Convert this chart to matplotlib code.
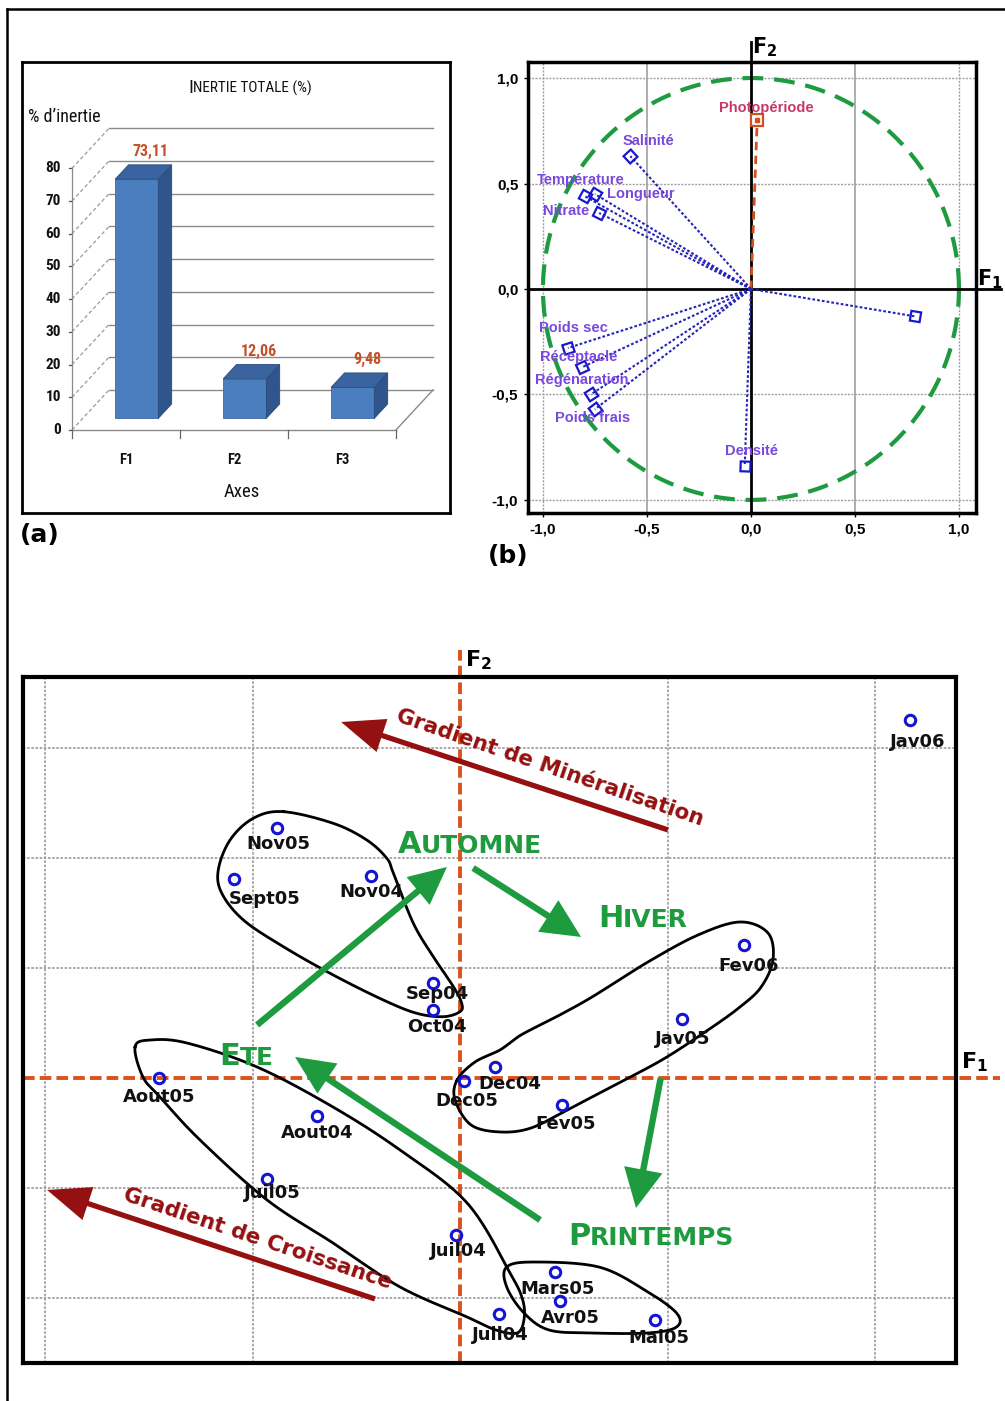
import numpy as np
import matplotlib
matplotlib.use("Agg")
import matplotlib.pyplot as plt
from matplotlib import font_manager
from matplotlib.patches import Polygon
from matplotlib.lines import Line2D

# ---------------- data ----------------
# (a) total inertia per factorial axis
axis_names = ["F1", "F2", "F3"]
inertia = [73.11, 12.06, 9.48]
inertia_ticks = [0, 10, 20, 30, 40, 50, 60, 70, 80]

# (b) correlation circle: variables (F1, F2)
var_names = ["Photopériode", "Salinité", "Température", "Longueur", "Nitrate", "",
             "Poids sec", "Réceptacle", "Régénaration", "Poids frais", "Densité"]
var_f1 = [0.03, -0.58, -0.80, -0.75, -0.73, 0.79, -0.88, -0.81, -0.77, -0.75, -0.03]
var_f2 = [0.80, 0.63, 0.44, 0.45, 0.36, -0.13, -0.28, -0.37, -0.50, -0.57, -0.84]
corr_ticks = [-1.0, -0.5, 0.0, 0.5, 1.0]

# (c) sampling dates on the F1 x F2 plane
dates = ["Jav06", "Nov05", "Sept05", "Nov04", "Sep04", "Oct04", "Fev06", "Jav05",
         "Dec04", "Dec05", "Fev05", "Aout05", "Aout04", "Juil05", "Juil04",
         "Mars05", "Juil04", "Avr05", "Mai05"]
score_f1 = [2.17, -0.88, -1.09, -0.43, -0.13, -0.13, 1.37, 1.07,
            0.17, 0.02, 0.49, -1.45, -0.69, -0.93, -0.02,
            0.46, 0.19, 0.48, 0.94]
score_f2 = [3.25, 2.27, 1.81, 1.84, 0.86, 0.62, 1.21, 0.54,
            0.10, -0.03, -0.25, 0.00, -0.35, -0.92, -1.43,
            -1.76, -2.15, -2.03, -2.20]

# ---------------- fonts ----------------
ttf = font_manager.fontManager.ttflist
avail = {f.name for f in ttf}
SANS = "Liberation Sans" if "Liberation Sans" in avail else "DejaVu Sans"
NARROW = dict(family=SANS)
for cand in ["Liberation Sans Narrow", "Roboto Condensed", "DejaVu Sans Condensed"]:
    if cand in avail:
        NARROW = dict(family=cand)
        break
WIDE = "DejaVu Sans"

W, H = 1005, 1401
fig = plt.figure(figsize=(W / 100, H / 100), dpi=100)


def box(x0, y0, x1, y1):
    return [x0 / W, 1 - y1 / H, (x1 - x0) / W, (y1 - y0) / H]


# outer frame lines
fig.add_artist(Line2D([7 / W, 7 / W], [0, 1 - 9 / H], transform=fig.transFigure, color="k", lw=1.8))
fig.add_artist(Line2D([7 / W, 1], [1 - 9 / H, 1 - 9 / H], transform=fig.transFigure, color="k", lw=1.8))

# ======================= (a) =======================
axA = fig.add_axes(box(22, 62, 450, 513))
axA.set_xlim(-0.963, 3.0)
axA.set_ylim(-25.4, 112.5)
axA.set_xticks([]); axA.set_yticks([])
for s in axA.spines.values():
    s.set_linewidth(2.0)
DX, DY = 0.343, 12.23
x0f, x1f = -0.5, 2.5
wall_c = "#8a8a8a"
for v in inertia_ticks:
    axA.plot([x0f + DX, x1f + DX], [v + DY, v + DY], color=wall_c, lw=1.0, zorder=1)
    axA.plot([x0f, x0f + DX], [v, v + DY], color="#9a9a9a", lw=0.9, ls=(0, (3, 2)), zorder=1)
    axA.plot([x0f - 0.03, x0f], [v, v], color="#555555", lw=0.9)
    axA.text(x0f - 0.1, v, str(v), ha="right", va="center", fontsize=11,
             fontweight="bold", color="#111111", **NARROW)
axA.plot([x0f, x0f], [0, inertia_ticks[-1]], color="#8a8a8a", lw=0.9)
axA.plot([x0f, x1f], [0, 0], color=wall_c, lw=1.0)
axA.plot([x1f, x1f + DX], [0, DY], color=wall_c, lw=1.0)
for t in np.arange(x0f, x1f + 0.01, 1.0):
    axA.plot([t, t], [0, -2.5], color="#666666", lw=0.9)

d0, d1, bw = 0.29, 0.65, 0.4
idx = np.arange(len(inertia))
axA.bar(idx + d0 * DX, inertia, width=bw, bottom=d0 * DY, color="#4A7EBE",
        edgecolor="#3d6aa3", lw=0.6, zorder=3)
for i, v in zip(idx, inertia):
    xl, xr = i - bw / 2 + d0 * DX, i + bw / 2 + d0 * DX
    side = [(xr, d0 * DY), (xr + (d1 - d0) * DX, d1 * DY),
            (xr + (d1 - d0) * DX, v + d1 * DY), (xr, v + d0 * DY)]
    top = [(xl, v + d0 * DY), (xr, v + d0 * DY),
           (xr + (d1 - d0) * DX, v + d1 * DY), (xl + (d1 - d0) * DX, v + d1 * DY)]
    axA.add_patch(Polygon(side, closed=True, fc="#2F558C", ec="#2a4a7a", lw=0.6, zorder=3))
    axA.add_patch(Polygon(top, closed=True, fc="#3A64A0", ec="#2a4a7a", lw=0.6, zorder=3))
    axA.text(i + 0.23, v + d1 * DY + 4.0, f"{v:.2f}".replace(".", ","), ha="center",
             va="center", fontsize=11.5, fontweight="bold", color="#C4502A", **NARROW)
for i, name in enumerate(axis_names):
    axA.text(i, -9.2, name, ha="center", va="center", fontsize=10.5,
             fontweight="bold", color="#111111", **NARROW)
axA.text(1 + DX / 2 - 0.1, -19.0, "Axes", ha="center", va="center", fontsize=13.5,
         color="#111111", **NARROW)
axA.text(-0.907, 95.7, "% d’inertie", ha="left", va="center", fontsize=13,
         color="#111111", **NARROW)
axA.text(0.62, 103.0, "I", ha="right", va="baseline", fontsize=14, color="#111111", **NARROW)
axA.text(0.62, 103.0, "NERTIE TOTALE (%)", ha="left", va="baseline", fontsize=11,
         color="#111111", **NARROW)

fig.text(40 / W, 1 - 535 / H, "(a)", ha="center", va="center", fontsize=18,
         fontweight="bold", family="DejaVu Sans")

# ======================= (b) =======================
axB = fig.add_axes(box(528, 62, 976, 513))
axB.set_xlim(-1.072, 1.082)
axB.set_ylim(-1.062, 1.076)
for s in axB.spines.values():
    s.set_linewidth(2.5)
axB.set_xticks(corr_ticks)
axB.set_yticks(corr_ticks)
tl = [f"{t:.1f}".replace(".", ",") for t in corr_ticks]
axB.set_xticklabels(tl, fontsize=11, fontweight="bold", family=SANS)
axB.set_yticklabels(tl, fontsize=11, fontweight="bold", family=SANS)
axB.tick_params(length=3, width=1, pad=4)
for g in corr_ticks:
    if g == 0:
        continue
    if abs(g) == 0.5:
        axB.axvline(g, color="#a0a0a0", lw=1.2, zorder=0)
    else:
        axB.axvline(g, color="#a0a0a0", lw=1.0, ls=(0, (1.5, 1)), zorder=0)
    axB.axhline(g, color="#a0a0a0", lw=1.0, ls=(0, (1.5, 1)), zorder=0)
th = np.linspace(0, 2 * np.pi, 400)
axB.plot(np.cos(th), np.sin(th), color="#1E9A40", lw=3, ls=(0, (5, 2.6)), zorder=2)
axB.plot([-1.072, 1.2], [0, 0], color="k", lw=2, clip_on=False, zorder=3)
axB.plot([0, 0], [-1.062, 1.17], color="k", lw=2, clip_on=False, zorder=3)
axB.text(1.15, 0.045, r"$\mathbf{F_1}$", fontsize=15, ha="center", va="center", clip_on=False)
axB.text(0.067, 1.145, r"$\mathbf{F_2}$", fontsize=15, ha="center", va="center", clip_on=False)

lab_off = {"Photopériode": (9, 12), "Salinité": (18, 15), "Température": (-4, 16),
           "Longueur": (46, 0), "Nitrate": (-33, 2), "Poids sec": (5, 20),
           "Réceptacle": (-4, 10), "Régénaration": (-9, 14), "Poids frais": (-2, -9),
           "Densité": (7, 15)}
for name, fx, fy in zip(var_names, var_f1, var_f2):
    ang = np.degrees(np.arctan2(fy, fx))
    if name == "Photopériode":
        col = "#D0501E"
        axB.plot([0, fx], [0, fy], color=col, lw=2, ls=(0, (3, 2)), zorder=4)
        axB.plot(fx, fy, marker="s", ms=8, mfc="white", mec=col, mew=1.6, zorder=5)
        axB.plot(fx, fy, marker="s", ms=2.5, mfc=col, mec=col, zorder=6)
        tcol = "#C8386E"
    else:
        col = "#2424B8"
        axB.plot([0, fx], [0, fy], color=col, lw=1.5, ls=(0, (1.3, 1.0)), zorder=4)
        axB.plot(fx, fy, marker=(4, 0, ang + 45), ms=10, mfc="none", mec="#1818CC",
                 mew=1.6, zorder=5)
        tcol = "#7A48DC"
    if name:
        axB.annotate(name, (fx, fy), xytext=lab_off[name], textcoords="offset pixels",
                     ha="center", va="center", fontsize=10.5, fontweight="bold",
                     family=SANS, color=tcol, zorder=7)

fig.text(508 / W, 1 - 556 / H, "(b)", ha="center", va="center", fontsize=18,
         fontweight="bold", family="DejaVu Sans")

# ======================= (c) =======================
axC = fig.add_axes(box(23, 677, 956, 1363))
axC.set_xlim(-2.106, 2.390)
axC.set_ylim(-2.591, 3.645)
axC.set_xticks([]); axC.set_yticks([])
for s in axC.spines.values():
    s.set_linewidth(3)
for gx in [-2, -1, 1, 2]:
    axC.axvline(gx, color="#9a9a9a", lw=1.2, ls=(0, (1.5, 1)), zorder=0)
for gy in [-2, -1, 1, 2, 3]:
    axC.axhline(gy, color="#9a9a9a", lw=1.2, ls=(0, (1.5, 1)), zorder=0)
orange = "#D9531E"
axC.plot([-2.106, 2.60], [0, 0], color=orange, lw=2.8, ls=(0, (3, 1.3)), clip_on=False, zorder=1)
axC.plot([0, 0], [-2.591, 3.89], color=orange, lw=2.8, ls=(0, (3, 1.3)), clip_on=False, zorder=1)
axC.text(2.48, 0.145, r"$\mathbf{F_1}$", fontsize=16, ha="center", va="center", clip_on=False)
axC.text(0.087, 3.80, r"$\mathbf{F_2}$", fontsize=16, ha="center", va="center", clip_on=False)


def smooth_closed(pts, n=24):
    P = np.asarray(pts, float)
    N = len(P)
    t = np.linspace(0, 1, n, endpoint=False)[:, None]
    segs = []
    for i in range(N):
        p0, p1, p2, p3 = P[i - 1], P[i], P[(i + 1) % N], P[(i + 2) % N]
        segs.append(0.5 * (2 * p1 + (-p0 + p2) * t + (2 * p0 - 5 * p1 + 4 * p2 - p3) * t ** 2
                           + (-p0 + 3 * p1 - 3 * p2 + p3) * t ** 3))
    out = np.vstack(segs)
    return np.vstack([out, out[:1]])


loops = [
    [(-0.852, 2.421), (-0.611, 2.315), (-0.450, 2.164), (-0.353, 1.997), (-0.321, 1.861),
     (-0.225, 1.406), (-0.129, 1.103), (-0.032, 0.830), (0.008, 0.679), (0.000, 0.603),
     (-0.080, 0.557), (-0.209, 0.588), (-0.370, 0.709), (-0.611, 0.936), (-0.852, 1.194),
     (-1.044, 1.436), (-1.148, 1.679), (-1.165, 1.891), (-1.108, 2.164), (-0.996, 2.361)],
    [(-0.014, -0.018), (0.072, 0.145), (0.193, 0.255), (0.294, 0.391), (0.463, 0.555),
     (0.636, 0.736), (0.906, 1.055), (1.147, 1.300), (1.349, 1.418), (1.484, 1.318),
     (1.508, 1.073), (1.451, 0.827), (1.349, 0.645), (1.195, 0.436), (0.973, 0.164),
     (0.718, -0.091), (0.516, -0.291), (0.342, -0.455), (0.193, -0.491), (0.053, -0.427),
     (-0.024, -0.200)],
    [(-1.566, 0.282), (-1.494, 0.345), (-1.316, 0.318), (-0.978, 0.100), (-0.612, -0.264),
     (-0.289, -0.655), (0.034, -1.136), (0.241, -1.773), (0.302, -2.018), (0.308, -2.200),
     (0.275, -2.318), (0.173, -2.291), (0.034, -2.173), (-0.289, -1.900), (-0.612, -1.500),
     (-0.930, -1.109), (-1.253, -0.564), (-1.446, -0.173), (-1.528, 0.009)],
    [(0.225, -1.718), (0.361, -1.673), (0.668, -1.718), (0.890, -1.927), (1.043, -2.136),
     (1.043, -2.264), (0.906, -2.318), (0.634, -2.318), (0.429, -2.291), (0.308, -2.136),
     (0.225, -1.900)],
]
for lp in loops:
    c = smooth_closed(lp)
    axC.plot(c[:, 0], c[:, 1], color="k", lw=2, zorder=3)


def arrow(tail, tip, color, tw, hl, hw):
    axC.annotate("", xy=tip, xytext=tail,
                 arrowprops=dict(arrowstyle=f"simple,head_length={hl},head_width={hw},tail_width={tw}",
                                 color=color, lw=0, shrinkA=0, shrinkB=0, mutation_scale=1),
                 annotation_clip=False, zorder=4)


green = "#1E9B3E"
red = "#951010"
arrow((-0.978, 0.482), (-0.063, 1.918), green, 4.6, 27, 26)
arrow((0.063, 1.909), (0.583, 1.282), green, 4.6, 28, 27)
arrow((0.967, 0.0), (0.848, -1.182), green, 4.6, 28, 28)
arrow((0.386, -1.291), (-0.795, 0.191), green, 4.6, 28, 26)
arrow((1.002, 2.255), (-0.573, 3.236), red, 3.8, 31, 25)
arrow((-0.410, -2.009), (-1.990, -1.018), red, 3.8, 31, 25)

axC.text(0.434, 2.818, "Gradient de Minéralisation", rotation=-18.9, rotation_mode="anchor",
         ha="center", va="center", fontsize=15.5, fontweight="bold", family=WIDE, color=red, zorder=5)
axC.text(-0.978, -1.464, "Gradient de Croissance", rotation=-18.4, rotation_mode="anchor",
         ha="center", va="center", fontsize=15.5, fontweight="bold", family=WIDE, color=red, zorder=5)

seasons = [("A", "UTOMNE", -0.188, 2.045), ("H", "IVER", 0.786, 1.373),
           ("E", "TE", -1.060, 0.118), ("P", "RINTEMPS", 0.627, -1.518)]
for big, rest, sx, sy in seasons:
    axC.text(sx, sy, big, ha="right", va="baseline", fontsize=22, fontweight="bold",
             family=WIDE, color=green, zorder=5)
    axC.text(sx, sy, rest, ha="left", va="baseline", fontsize=18, fontweight="bold",
             family=WIDE, color=green, zorder=5)

pt_off = {0: (7, -22), 1: (1, -16), 2: (31, -20), 3: (1, -16), 4: (4, -11), 5: (4, -17),
          6: (4, -21), 7: (1, -20), 8: (15, -17), 9: (3, -20), 10: (4, -19), 11: (0, -19),
          12: (0, -17), 13: (5, -14), 14: (2, -16), 15: (2, -17), 16: (1, -21), 17: (11, -17),
          18: (4, -18)}
axC.plot(score_f1, score_f2, ls="none", marker="o", ms=7.5, mfc="none", mec="#1414D2",
         mew=2.2, zorder=6)
for k, (name, x, y) in enumerate(zip(dates, score_f1, score_f2)):
    axC.annotate(name, (x, y), xytext=pt_off[k], textcoords="offset pixels", ha="center",
                 va="center", fontsize=13, fontweight="bold", family=WIDE, color="#111111",
                 zorder=7)

fig.savefig("out.png", dpi=100)
